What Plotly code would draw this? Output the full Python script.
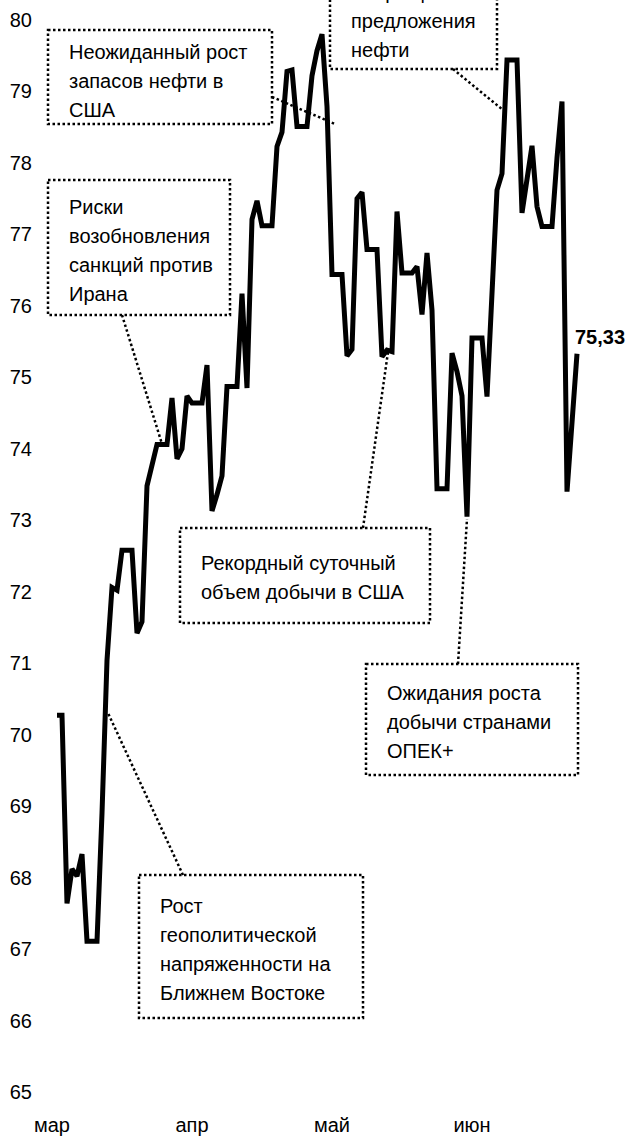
import pandas as pd
import plotly.graph_objects as go

# ---------------- data ----------------
start_date = "2018-03-31"
end_date = "2018-07-13"
prices = [
    70.27, 70.27, 67.64, 68.12, 68.02, 68.33, 67.11, 67.11, 67.11, 68.90,
    71.04, 72.06, 72.02, 72.58, 72.58, 72.58, 71.42, 71.58, 73.48, 73.78,
    74.06, 74.06, 74.06, 74.71, 73.86, 74.00, 74.74, 74.64, 74.64, 74.64,
    75.17, 73.13, 73.36, 73.62, 74.87, 74.87, 74.87, 76.17, 74.85, 77.21,
    77.47, 77.12, 77.12, 77.12, 78.23, 78.43, 79.28, 79.30, 78.51, 78.51,
    78.51, 79.22, 79.57, 79.80, 78.79, 76.44, 76.44, 76.44, 75.30, 75.39,
    77.50, 77.59, 76.79, 76.79, 76.79, 75.29, 75.38, 75.36, 77.32, 76.46,
    76.46, 76.46, 76.55, 75.88, 76.74, 75.94, 73.44, 73.44, 73.44, 75.34,
    75.08, 74.74, 73.05, 75.55, 75.55, 75.55, 74.73, 76.31, 77.62, 77.85,
    79.44, 79.44, 79.44, 77.30, 77.76, 78.24, 77.39, 77.11, 77.11, 77.11,
    78.07, 78.86, 73.40, 74.45, 75.33,
]
tick_dates = ["2018-03-30", "2018-04-27", "2018-05-25", "2018-06-22"]
tick_labels = ["мар", "апр", "май", "июн"]
y_ticks = list(range(65, 81))

notes = [
    ["Неожиданный рост", "запасов нефти в", "США"],
    ["Сокращение", "предложения", "нефти"],
    ["Риски", "возобновления", "санкций против", "Ирана"],
    ["Рекордный суточный", "объем добычи в США"],
    ["Ожидания роста", "добычи странами", "ОПЕК+"],
    ["Рост", "геополитической", "напряженности на", "Ближнем Востоке"],
]

dates = pd.date_range(start_date, end_date, freq="D")

# ---------------- layout geometry (pixels) ----------------
W, H = 633, 1141
ML, MR, MT, MB = 40, 0, 0, 30
PW, PH = W - ML - MR, H - MT - MB
PX_PER_DAY = 5.0
first_px = 57
x0 = dates[0] - pd.Timedelta(days=(first_px - ML) / PX_PER_DAY)
x1 = x0 + pd.Timedelta(days=PW / PX_PER_DAY)
y_top_px, y_bot_px = 20, 1092  # pixel rows of 80 and 65
ppu = (y_bot_px - y_top_px) / 15.0
y_max = 80 + (y_top_px - MT) / ppu
y_min = 65 - (MT + PH - y_bot_px) / ppu

FONT = "Liberation Sans, Arial, sans-serif"
FS = 20
LINE_H = 29


def px(x):
    return (x - ML) / PW


def py(y):
    return 1 - (y - MT) / PH


# box rect (x0,y0,x1,y1), text left, first line centre, leader from, leader to
boxes = [
    ((48, 30, 272, 124), 68, 51.7, (272, 97), (335, 124)),
    ((330, -60, 497, 69), 350, -8.5, (453, 69), (503, 110)),
    ((48, 180, 230, 315), 68, 206.7, (122, 315), (162, 444)),
    ((180, 528, 430, 623), 200, 563, (363, 528), (388, 352)),
    ((366, 664, 578, 775), 386, 693, (458, 664), (467, 519)),
    ((139, 875, 363, 1018), 159, 906, (183, 875), (108, 713)),
]

fig = go.Figure()
fig.add_trace(go.Scatter(
    x=dates, y=prices, mode="lines",
    line=dict(color="black", width=5),
    hoverinfo="skip", showlegend=False,
))

shapes = []
annotations = []
DASH = "2.5px,2.5px"
for lines, (rect, tx, tc, lf, lt) in zip(notes, boxes):
    shapes.append(dict(type="rect", xref="paper", yref="paper",
                       x0=px(rect[0]), x1=px(rect[2]), y0=py(rect[1]), y1=py(rect[3]),
                       line=dict(color="black", width=2.5, dash=DASH),
                       fillcolor="rgba(0,0,0,0)", layer="above"))
    shapes.append(dict(type="line", xref="paper", yref="paper",
                       x0=px(lf[0]), y0=py(lf[1]), x1=px(lt[0]), y1=py(lt[1]),
                       line=dict(color="black", width=2.5, dash=DASH)))
    for i, line in enumerate(lines):
        annotations.append(dict(xref="paper", yref="paper", x=px(tx),
                                y=py(tc + i * LINE_H),
                                xanchor="left", yanchor="middle", align="left",
                                showarrow=False, text=line, borderpad=0,
                                font=dict(family=FONT, size=FS, color="black")))

last_label = f"{prices[-1]:.2f}".replace(".", ",")
annotations.append(dict(x=dates[-1], y=prices[-1], xref="x", yref="y",
                        text=f"<b>{last_label}</b>", showarrow=False,
                        xanchor="left", yanchor="bottom", xshift=-4, yshift=4,
                        font=dict(family=FONT, size=FS, color="black")))

fig.update_layout(
    width=W, height=H,
    margin=dict(l=ML, r=MR, t=MT, b=MB),
    paper_bgcolor="white", plot_bgcolor="white",
    showlegend=False,
    font=dict(family=FONT, size=FS, color="black"),
    shapes=shapes, annotations=annotations,
    xaxis=dict(type="date", range=[x0, x1], tickvals=pd.to_datetime(tick_dates),
               ticktext=tick_labels, showgrid=False, zeroline=False,
               showline=False, ticks="", tickfont=dict(family=FONT, size=FS)),
    yaxis=dict(range=[y_min, y_max], tickvals=y_ticks, showgrid=False,
               zeroline=False, showline=False, ticks="",
               tickfont=dict(family=FONT, size=FS), ticklabelstandoff=7),
)

fig.write_html("out.html", config={"displayModeBar": False},
               post_script="document.body.style.margin='0px';")
